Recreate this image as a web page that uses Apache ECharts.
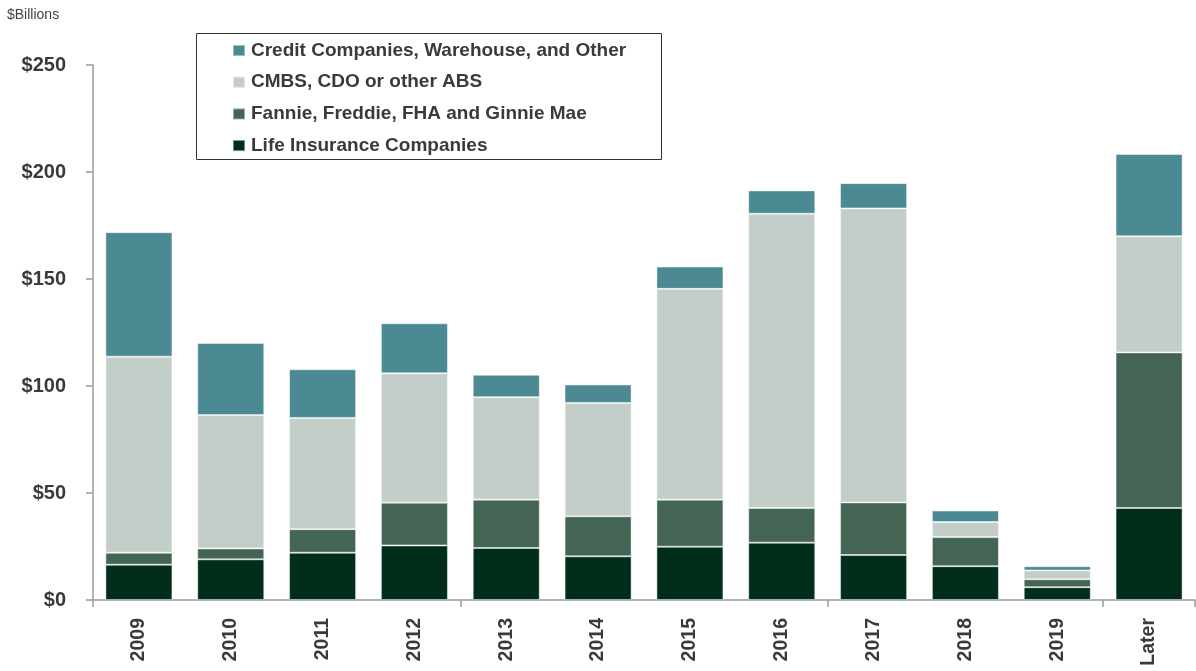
<!DOCTYPE html>
<html>
<head>
<meta charset="utf-8">
<script src="https://cdn.jsdelivr.net/npm/echarts@6/dist/echarts.min.js"></script>
<style>
  html, body { margin: 0; padding: 0; background: #ffffff; }
  #chart { width: 1196px; height: 671px; }
</style>
</head>
<body>
<div id="chart"></div>
<script>
// Maturing commercial mortgage debt by lender type, $ billions
const categories = ['2009', '2010', '2011', '2012', '2013', '2014', '2015', '2016', '2017', '2018', '2019', 'Later'];
const lifeInsurance = [16.5, 19.0, 22.1, 25.5, 24.3, 20.4, 24.9, 26.8, 21.0, 15.8, 6.0, 43.0];
const agencies      = [5.6, 5.1, 11.0, 20.0, 22.6, 18.7, 22.0, 16.2, 24.6, 13.6, 3.7, 72.7];
const cmbsAbs       = [91.6, 62.3, 52.0, 60.4, 47.9, 53.0, 98.5, 137.5, 137.4, 7.0, 4.1, 54.3];
const creditOther   = [58.2, 33.7, 22.7, 23.4, 10.4, 8.6, 10.4, 10.9, 11.8, 5.4, 2.0, 38.4];
const yTicks = [0, 50, 100, 150, 200, 250];

const seriesNames = {
  life: 'Life Insurance Companies',
  agency: 'Fannie, Freddie, FHA and Ginnie Mae',
  cmbs: 'CMBS, CDO or other ABS',
  credit: 'Credit Companies, Warehouse, and Other'
};
const colors = {
  life: '#002E1B',
  agency: '#446554',
  cmbs: '#C4CEC8',
  credit: '#4B8993'
};

const FONT = '"Liberation Sans", Arial, sans-serif';

function stackBar(name, data, color) {
  return {
    name: name,
    type: 'bar',
    stack: 'total',
    data: data,
    barCategoryGap: '27%',
    itemStyle: { color: color, borderColor: 'rgba(255,255,255,0.45)', borderWidth: 1 },
    emphasis: { disabled: true }
  };
}

const chart = echarts.init(document.getElementById('chart'), null, { renderer: 'canvas' });
chart.setOption({
  animation: false,
  backgroundColor: '#ffffff',
  grid: { left: 93, right: 1, top: 65, bottom: 71, containLabel: false },
  graphic: [
    {
      type: 'text',
      left: 7,
      top: 8,
      style: { text: '$Billions', font: '14px ' + FONT, fill: '#444444' }
    },
    {
      type: 'rect',
      shape: { x: 196.5, y: 33.5, width: 465, height: 126 },
      style: { fill: '#ffffff', stroke: '#333333', lineWidth: 1 },
      z: 1
    }
  ],
  legend: {
    orient: 'vertical',
    left: 232,
    top: 41,
    padding: 0,
    z: 10,
    itemWidth: 12,
    itemHeight: 11,
    itemGap: 12.7,
    icon: 'rect',
    selectedMode: false,
    data: [seriesNames.credit, seriesNames.cmbs, seriesNames.agency, seriesNames.life],
    textStyle: {
      fontFamily: FONT,
      fontWeight: 'bold',
      fontSize: 19,
      lineHeight: 18,
      color: '#3a3a3a',
      padding: [0, 0, 0, 1]
    }
  },
  xAxis: {
    type: 'category',
    data: categories,
    axisLine: { lineStyle: { color: '#9a9a9a', width: 1.5 } },
    axisTick: { show: true, interval: 3, length: 7, lineStyle: { color: '#9a9a9a', width: 1.5 } },
    axisLabel: {
      interval: 0,
      rotate: 90,
      margin: 18,
      fontFamily: FONT,
      fontWeight: 'bold',
      fontSize: 19.5,
      color: '#3a3a3a'
    }
  },
  yAxis: {
    type: 'value',
    min: 0,
    max: 250,
    interval: 50,
    splitLine: { show: false },
    axisLine: { show: true, lineStyle: { color: '#9a9a9a', width: 1.5 } },
    axisTick: { show: true, inside: false, length: 7, lineStyle: { color: '#9a9a9a', width: 1.5 } },
    axisLabel: {
      margin: 27,
      fontFamily: FONT,
      fontWeight: 'bold',
      fontSize: 20,
      color: '#3a3a3a',
      formatter: function (v) { return yTicks.indexOf(v) >= 0 ? '$' + v : ''; }
    }
  },
  series: [
    stackBar(seriesNames.life, lifeInsurance, colors.life),
    stackBar(seriesNames.agency, agencies, colors.agency),
    stackBar(seriesNames.cmbs, cmbsAbs, colors.cmbs),
    stackBar(seriesNames.credit, creditOther, colors.credit)
  ]
});
</script>
</body>
</html>
